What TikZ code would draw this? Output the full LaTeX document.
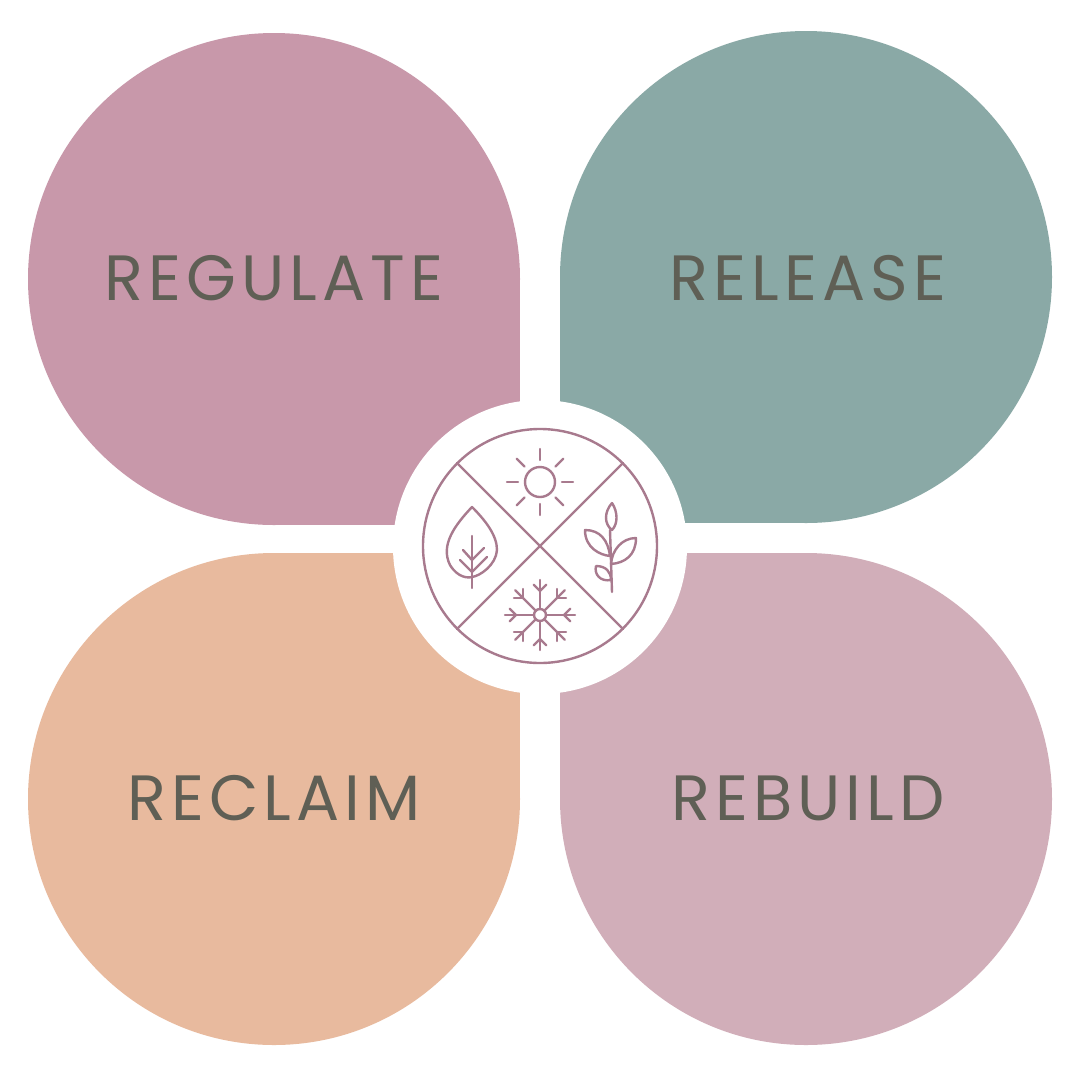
\documentclass[tikz,border=0pt]{standalone}
\usetikzlibrary{calc}
\usepackage{fontspec}
\setmainfont{Poppins}[LetterSpace=8]
\definecolor{cTL}{HTML}{C898AA}
\definecolor{cTR}{HTML}{8AA9A6}
\definecolor{cBL}{HTML}{E8BA9E}
\definecolor{cBR}{HTML}{D1AEB9}
\definecolor{txt}{HTML}{5F5F55}
\definecolor{ic}{HTML}{A87A8E}
\begin{document}
\begin{tikzpicture}[x=1pt,y=-1pt,
  lab/.style={text=txt,font=\fontsize{64}{64}\selectfont,inner sep=0},
  icon/.style={draw=ic,line width=2.4pt,line cap=round,line join=round}]
\useasboundingbox[fill=white] (0,0) rectangle (1080,1080);
\fill[cTL] (274,279) circle (246); \fill[cTL] (274,279) rectangle (520,525);
\fill[cTR] (806,277) circle (246); \fill[cTR] (806,277) rectangle (560,523);
\fill[cBL] (274,799) circle (246); \fill[cBL] (274,799) rectangle (520,553);
\fill[cBR] (806,799) circle (246); \fill[cBR] (806,799) rectangle (560,553);
\fill[white] (540,547) circle (147);
\node[lab] (t1) at (274,278) {REGULATE};
\node[lab] (t2) at (808,278) {RELEASE};
\node[lab] (t3) at (274,798) {RECLAIM};
\node[lab] (t4) at (808,798) {REBUILD};
% icon
\draw[icon] (540,546) circle (117);
\draw[icon] (457,463) -- (623,629) (623,463) -- (457,629);
% sun
\draw[icon] (540,482) circle (15);
\foreach \a in {0,45,...,315} \draw[icon] ($(540,482)+(\a:22)$) -- ($(540,482)+(\a:33)$);
% leaf
\draw[icon] (472,507) .. controls (455,525) and (440,545) .. (450,565) .. controls (458,578) and (468,578) .. (472,577) .. controls (480,576) and (496,565) .. (497,550) .. controls (497,535) and (485,520) .. (472,507) -- cycle;
\draw[icon] (472,536) -- (472,588);
\draw[icon] (472,572) -- (460,560) (472,572) -- (487,557) (472,560) -- (463,550) (472,560) -- (484,548);
% sprout
\draw[icon] (610,530) -- (612,592);
\draw[icon] (612,503) .. controls (604,512) and (604,524) .. (612,530) .. controls (618,524) and (618,512) .. (612,503);
\draw[icon] (610,556) .. controls (600,555) and (585,548) .. (585,530) .. controls (600,530) and (608,540) .. (610,556);
\draw[icon] (611,564) .. controls (612,550) and (622,538) .. (636,538) .. controls (636,555) and (625,563) .. (611,564);
\draw[icon] (611,580) .. controls (600,582) and (594,574) .. (596,566) .. controls (606,566) and (611,572) .. (611,580);
% snowflake
\draw[icon] (540,615) circle (6);
\foreach \a in {0,45,...,315}{
  \draw[icon] ($(540,615)+(\a:6)$) -- ($(540,615)+(\a:35)$);
  \draw[icon] ($(540,615)+(\a:24)$) -- ($(540,615)+(\a:24)+(\a+45:9)$);
  \draw[icon] ($(540,615)+(\a:24)$) -- ($(540,615)+(\a:24)+(\a-45:9)$);
}
\end{tikzpicture}
\end{document}
